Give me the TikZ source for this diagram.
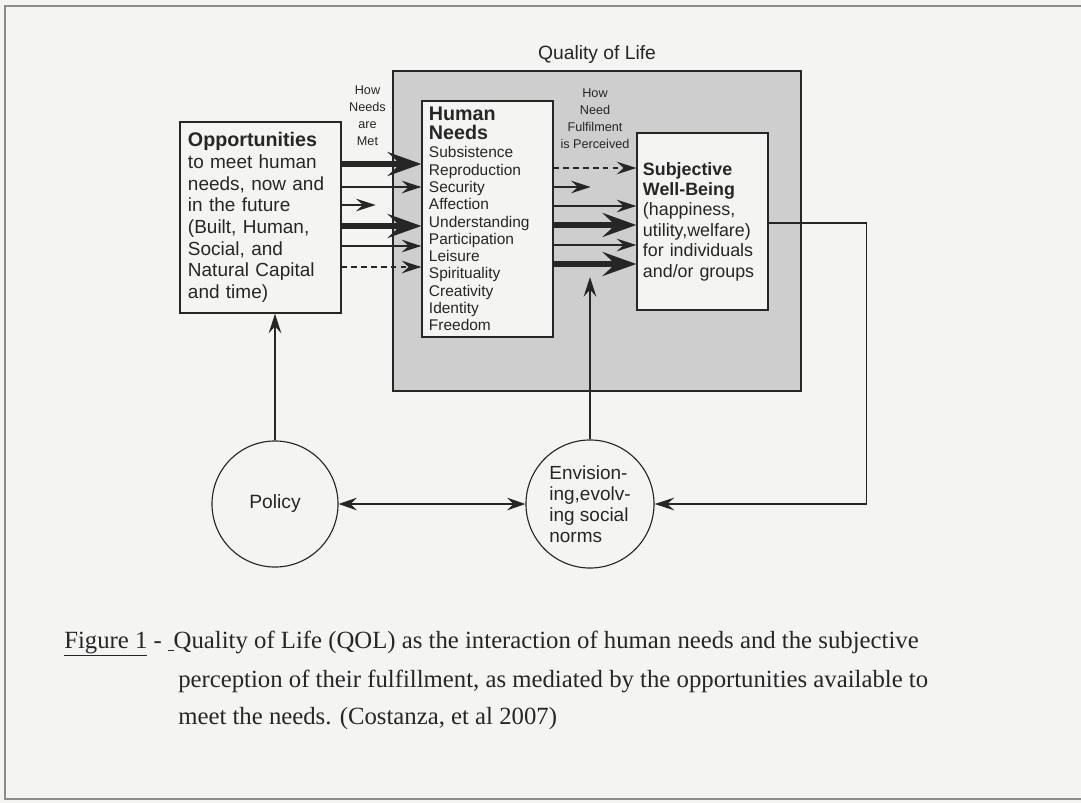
\documentclass[tikz,border=0pt]{standalone}
\usepackage{fontspec}
\setmainfont{Liberation Serif}
\setsansfont{Liberation Sans}
\usetikzlibrary{arrows.meta}
\definecolor{paper}{RGB}{244,244,243}
\definecolor{ink}{RGB}{38,38,38}
\definecolor{qolgray}{RGB}{206,206,206}
\definecolor{framegray}{RGB}{140,140,140}
\begin{document}
\begin{tikzpicture}
		[x=0.025cm,y=-0.025cm,
		qolbox/.style={rectangle,draw=ink,line width=2pt,fill=qolgray,
minimum width=10.2cm,minimum height=8cm},
		textbox/.style={rectangle,draw=ink,line width=0.9pt,fill=paper,
align=left,inner ysep=0pt,text=ink},
		place/.style={circle,draw=ink,line width=0.8pt,fill=paper,
inner sep=0pt,minimum size=3.15cm,text=ink},
		smalltext/.style={align=center,text=ink,
font=\sffamily\fontsize{9}{12}\selectfont},
		captext/.style={anchor=base west,inner xsep=0pt,text=ink,
font=\rmfamily\fontsize{17.6}{20}\selectfont},
		bigarr/.style={ink,line width=4.5pt,
-{Stealth[length=24pt,width=17pt,inset=9pt]}},
		smallarr/.style={ink,line width=1.1pt,
-{Stealth[length=14pt,width=9pt,inset=5pt]}},
		dasharr/.style={smallarr,dash pattern=on 4pt off 3pt},
		twoway/.style={ink,line width=0.9pt,
{Stealth[length=13pt,width=9pt,inset=4.5pt]}-{Stealth[length=13pt,width=9pt,inset=4.5pt]}}]
		\fill[paper] (0,0) rectangle (1081,803);
		\useasboundingbox (0,0) rectangle (1081,803);
		\draw[framegray,line width=1.2pt] (1081,6) -- (5,6) -- (5,799) -- (1081,799);
		\node at (597,231) (qol) [qolbox] {};
		\node at (597,55) (qoltitle) [text=ink,font=\sffamily\fontsize{13.7}{15}\selectfont] {Quality of Life};
		\node at (260.5,217.5) (opp) [textbox,minimum width=4.025cm,minimum height=4.775cm,
inner xsep=0.2cm,text width=3.625cm,font=\sffamily\fontsize{13.5}{15.4}\selectfont]
			{\textbf{\fontsize{14}{15.4}\selectfont Opportunities}\\to meet human\\needs, now and\\in the future\\(Built, Human,\\Social, and\\Natural Capital\\and time)};
		\node at (487.5,219) (needs) [textbox,minimum width=3.275cm,minimum height=5.9cm,
inner xsep=0.175cm,text width=2.925cm,font=\sffamily\fontsize{11}{12.3}\selectfont]
			{\textbf{\fontsize{14}{14}\selectfont Human}\\[1.5pt]\textbf{\fontsize{14}{14}\selectfont Needs}\\[0.5pt]Subsistence\\Reproduction\\Security\\Affection\\Understanding\\Participation\\Leisure\\Spirituality\\Creativity\\Identity\\Freedom};
		\node at (702.5,221.5) (swb) [textbox,minimum width=3.275cm,minimum height=4.425cm,
inner xsep=0.15cm,text width=2.975cm,font=\sffamily\fontsize{12.7}{14.5}\selectfont]
			{\textbf{Subjective}\\\textbf{Well-Being}\\(happiness,\\utility,welfare)\\for individuals\\and/or groups};
		\node at (367.5,116) (howmet) [smalltext] {How\\Needs\\are\\Met};
		\node at (595,119) (howperc) [smalltext] {How\\Need\\Fulfilment\\is Perceived};
		\node at (275,504) (policy) [place,font=\sffamily\fontsize{13.7}{15}\selectfont] {Policy};
		\node at (590,504) (env) [place,minimum size=3.2cm,align=left,
font=\sffamily\fontsize{13.5}{15}\selectfont] {Envision-\\ing,evolv-\\ing social\\norms};
		\coordinate (percept) at (590,277);
		\draw[bigarr] (opp.east |- 0,164) -- (needs.west |- 0,164);
		\draw[smallarr] (opp.east |- 0,187) -- (needs.west |- 0,187);
		\draw[smallarr] (opp.east |- 0,205) -- ++(34,0);
		\draw[bigarr] (opp.east |- 0,226) -- (needs.west |- 0,226);
		\draw[smallarr] (opp.east |- 0,246) -- (needs.west |- 0,246);
		\draw[dasharr] (opp.east |- 0,267) -- (needs.west |- 0,267);
		\draw[dasharr] (needs.east |- 0,168) -- (swb.west |- 0,168);
		\draw[smallarr] (needs.east |- 0,187) -- ++(37,0);
		\draw[smallarr] (needs.east |- 0,206) -- (swb.west |- 0,206);
		\draw[bigarr] (needs.east |- 0,225) -- (swb.west |- 0,225);
		\draw[smallarr] (needs.east |- 0,245) -- (swb.west |- 0,245);
		\draw[bigarr] (needs.east |- 0,264) -- (swb.west |- 0,264);
		\draw[smallarr] (policy.north) -- (policy.north |- opp.south);
		\draw[smallarr] (env.north) -- (percept);
		\draw[smallarr] (swb.east |- 0,223) -- ++(98,0) |- (env.east);
		\draw[twoway] (policy) -- (env);
		\node at (64,648) (cap1) [captext] {\underline{Figure 1} - \underline{\hspace{4pt}}Quality of Life (QOL) as the interaction of human needs and the subjective};
		\node at (178,687) (cap2) [captext] {perception of their fulfillment, as mediated by the opportunities available to};
		\node at (178,724) (cap3) [captext] {meet the needs. (Costanza, et al 2007)};
	\end{tikzpicture}
\end{document}
